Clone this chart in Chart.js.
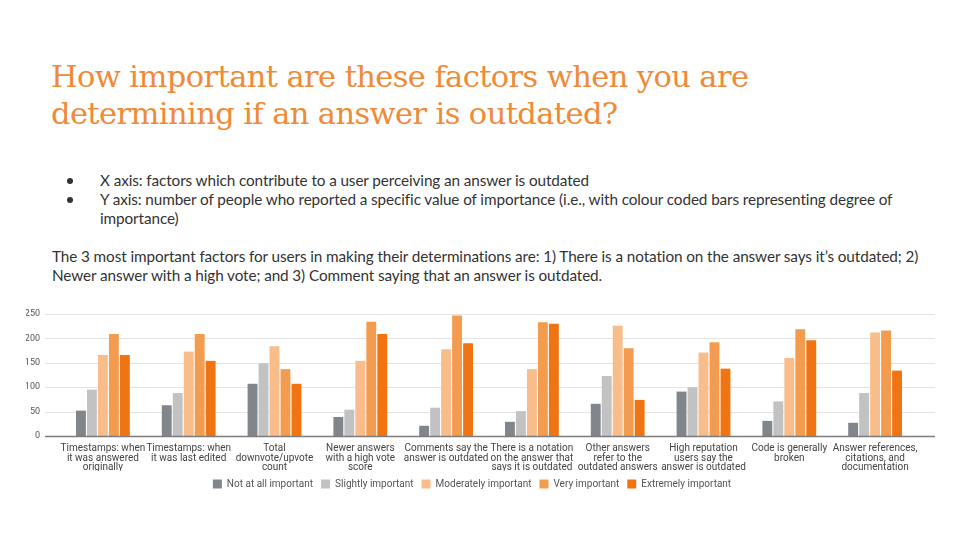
<!DOCTYPE html>
<html>
<head>
<meta charset="utf-8">
<script src="https://cdn.jsdelivr.net/npm/chart.js@4"></script>
<style>
body { margin: 0; width: 960px; height: 540px; background: #fff; position: relative; overflow: hidden; }
#title { position: absolute; left: 51px; top: 58px; margin: 0; font-family: "DejaVu Serif", serif; font-weight: normal; font-size: 30.5px; line-height: 37px; color: #ef8a36; letter-spacing: -0.6px; white-space: nowrap; }
.txt { position: absolute; font-family: Lato, sans-serif; font-size: 15.3px; line-height: 19px; color: #333; white-space: nowrap; letter-spacing: -0.1px; }
.dot { position: absolute; left: 67px; width: 6px; height: 6px; border-radius: 50%; background: #333; }
#wrap { position: absolute; left: 0; top: 295px; width: 960px; height: 204px; }
</style>
</head>
<body>
<h1 id="title">How important are these factors when you are<br>determining if an answer is outdated?</h1>

<div class="dot" style="top:178px"></div>
<div class="txt" style="left:100px;top:171px">X axis: factors which contribute to a user perceiving an answer is outdated</div>
<div class="dot" style="top:197px"></div>
<div class="txt" style="left:100px;top:190px">Y axis: number of people who reported a specific value of importance (i.e., with colour coded bars representing degree of<br>importance)</div>
<div class="txt" style="left:52px;top:247px">The 3 most important factors for users in making their determinations are: 1) There is a notation on the answer says it’s outdated; 2)<br>Newer answer with a high vote; and 3) Comment saying that an answer is outdated.</div>

<div id="wrap"><canvas id="chart"></canvas></div>

<script>
// categories (x axis), split over lines like the slide
const categories = [
    ["Timestamps: when", "it was answered", "originally"],
    ["Timestamps: when", "it was last edited"],
    ["Total", "downvote/upvote", "count"],
    ["Newer answers", "with a high vote", "score"],
    ["Comments say the", "answer is outdated"],
    ["There is a notation", "on the answer that", "says it is outdated"],
    ["Other answers", "refer to the", "outdated answers"],
    ["High reputation", "users say the", "answer is outdated"],
    ["Code is generally", "broken"],
    ["Answer references,", "citations, and", "documentation"]
];

// number of people per importance level
const notAtAll   = [52, 63, 107, 39, 21, 29, 66, 91, 31, 27];
const slightly   = [95, 88, 149, 54, 58, 51, 123, 100, 71, 88];
const moderately = [166, 173, 184, 154, 178, 137, 226, 171, 160, 212];
const very       = [209, 209, 137, 234, 247, 233, 180, 192, 219, 216];
const extremely  = [166, 154, 107, 209, 190, 230, 74, 138, 196, 134];

const yTicks = [0, 50, 100, 150, 200, 250];

// gridlines run a bit wider than the bars, like google sheets does
const wideGrid = {
    id: 'wideGrid',
    beforeDatasetsDraw(chart) {
        const ctx = chart.ctx;
        const y = chart.scales.y;
        ctx.save();
        ctx.strokeStyle = '#e3e3e3';
        ctx.lineWidth = 1;
        yTicks.forEach(v => {
            if (v === 0) return;
            const py = Math.round(y.getPixelForValue(v)) + 0.5;
            ctx.beginPath();
            ctx.moveTo(45, py);
            ctx.lineTo(935, py);
            ctx.stroke();
        });
        ctx.restore();
    },
    afterDatasetsDraw(chart) {
        const ctx = chart.ctx;
        const py = Math.round(chart.scales.y.getPixelForValue(0)) + 0.5;
        ctx.save();
        ctx.strokeStyle = '#7c7c7c';
        ctx.lineWidth = 1.5;
        ctx.beginPath();
        ctx.moveTo(45, py);
        ctx.lineTo(935, py);
        ctx.stroke();
        ctx.restore();
    }
};

const makeSet = function (label, data, color) {
    return {
        label: label,
        data: data,
        backgroundColor: color,
        borderColor: color,
        borderWidth: 0,
        categoryPercentage: 0.64,
        barPercentage: 0.9
    };
};

new Chart(document.getElementById('chart'), {
    type: 'bar',
    data: {
        labels: categories,
        datasets: [
            makeSet('Not at all important', notAtAll, '#80868c'),
            makeSet('Slightly important', slightly, '#c2c2c2'),
            makeSet('Moderately important', moderately, '#f8bd8b'),
            makeSet('Very important', very, '#f39b4f'),
            makeSet('Extremely important', extremely, '#f07412')
        ]
    },
    options: {
        responsive: true,
        maintainAspectRatio: false,
        animation: false,
        layout: { padding: { left: 26, right: 42, top: 19, bottom: 0 } },
        plugins: {
            legend: {
                position: 'bottom',
                labels: {
                    boxWidth: 9,
                    boxHeight: 9,
                    padding: 8,
                    color: '#555',
                    font: { family: 'Roboto', size: 10 }
                }
            },
            tooltip: { enabled: false }
        },
        scales: {
            x: {
                grid: { display: false },
                border: { display: false },
                ticks: {
                    color: '#444',
                    font: { family: 'Roboto', size: 10, lineHeight: 0.94 },
                    maxRotation: 0,
                    autoSkip: false,
                    padding: 0
                },
                afterFit: scale => { scale.height = 35; }
            },
            y: {
                min: 0,
                max: 250,
                grid: { display: false },
                border: { display: false },
                ticks: {
                    stepSize: 50,
                    color: '#555',
                    padding: 12,
                    font: { family: 'Roboto', size: 9 }
                },
                afterFit: scale => { scale.width = 34; }
            }
        }
    },
    plugins: [wideGrid]
});
</script>
</body>
</html>
